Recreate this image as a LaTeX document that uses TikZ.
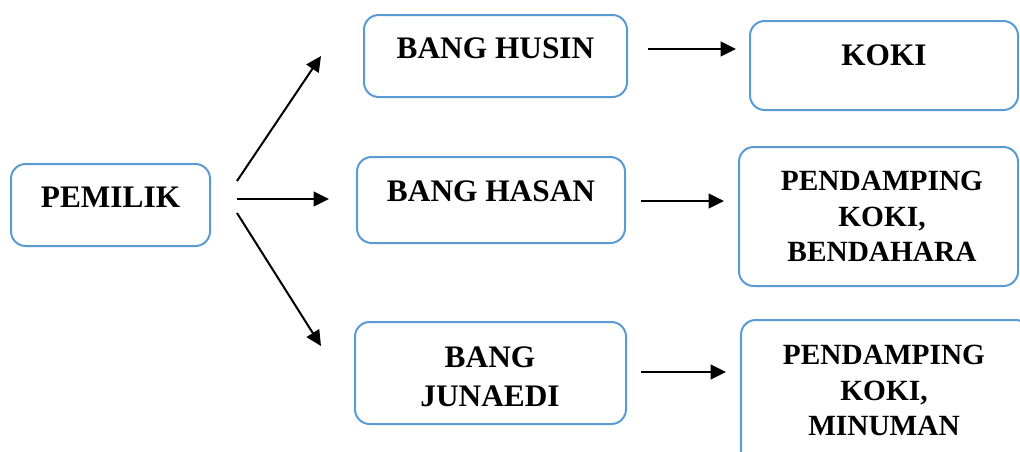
\documentclass[tikz,border=0pt]{standalone}
\usepackage{fontspec}
\setmainfont{Liberation Serif}
\usetikzlibrary{arrows.meta}
\definecolor{boxblue}{HTML}{5B9BD5}
\begin{document}
\begin{tikzpicture}[x=0.75pt,y=-0.75pt,
  box/.style={draw=boxblue,line width=1.5pt,rounded corners=11pt,inner sep=0pt},
  lbl/.style={anchor=north,inner sep=0pt,align=center,font=\fontsize{23.5}{26.5}\selectfont\bfseries},
  smalllbl/.style={lbl,font=\fontsize{22}{26.5}\selectfont\bfseries},
  arr/.style={line width=1.5pt,-{Triangle[length=11.5pt,width=11pt]}}]
\useasboundingbox (0,0) rectangle (1020,451);
% boxes
\node[box,minimum width=149.25pt,minimum height=61.5pt] (pemilik) at (110.5,205) {};
\node[box,minimum width=197.25pt,minimum height=61.5pt] (husin) at (495.5,56) {};
\node[box,minimum width=201pt,minimum height=66.75pt] (koki) at (884,65.5) {};
\node[box,minimum width=201pt,minimum height=64.5pt] (hasan) at (491,200) {};
\node[box,minimum width=209.25pt,minimum height=104.25pt] (bendahara) at (878.5,216.5) {};
\node[box,minimum width=203.25pt,minimum height=76.5pt] (junaedi) at (490.5,373) {};
\node[box,minimum width=216.75pt,minimum height=112.5pt] (minuman) at (885.5,395) {};
% labels
\node[lbl] (tpemilik) at (110.5,187) {PEMILIK};
\node[lbl] (thusin) at (495.5,37) {BANG HUSIN};
\node[lbl] (tkoki) at (884,44) {KOKI};
\node[lbl] (thasan) at (491,180) {BANG HASAN};
\node[smalllbl] (tbendahara) at (882,171) {PENDAMPING\\KOKI,\\BENDAHARA};
\node[lbl] (tjunaedi) at (490,346) {BANG\\[3pt]JUNAEDI};
\node[smalllbl] (tminuman) at (884,345) {PENDAMPING\\KOKI,\\MINUMAN};
% connector end points
\coordinate (p1s) at (237,181); \coordinate (p1e) at (321,56);
\coordinate (p2s) at (237,199); \coordinate (p2e) at (329,199);
\coordinate (p3s) at (237,213); \coordinate (p3e) at (321,346);
\coordinate (h1s) at (648,49);  \coordinate (h1e) at (736,49);
\coordinate (h2s) at (641,201); \coordinate (h2e) at (724,201);
\coordinate (h3s) at (641,372); \coordinate (h3e) at (726,372);
\draw[arr] (p1s) -- (p1e);
\draw[arr] (p2s) -- (p2e);
\draw[arr] (p3s) -- (p3e);
\draw[arr] (h1s) -- (h1e);
\draw[arr] (h2s) -- (h2e);
\draw[arr] (h3s) -- (h3e);
\end{tikzpicture}
\end{document}
